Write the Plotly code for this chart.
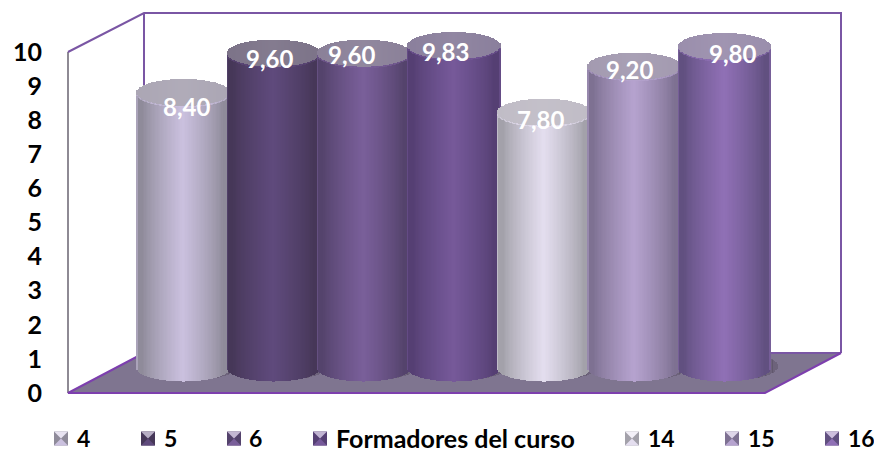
import math
import plotly.graph_objects as go

# ---- data ----
categories = ["4", "5", "6", "Formadores del curso", "14", "15", "16"]
values = [8.40, 9.60, 9.60, 9.83, 7.80, 9.20, 9.80]
value_labels = ["8,40", "9,60", "9,60", "9,83", "7,80", "9,20", "9,80"]
y_ticks = [0, 1, 2, 3, 4, 5, 6, 7, 8, 9, 10]

# ---- style ----
center_colors = ["#cbc1df", "#5f4a7c", "#7a5f9a", "#76599a", "#e4deef", "#b6a3cf", "#9070b6"]
edge_colors = ["#8f8b9a", "#463758", "#54436c", "#553f73", "#a3a1aa", "#7e7192", "#615080"]
cap_colors = ["#aba6b4", "#7c7388", "#8a8098", "#8a7f9c", "#c0bcc6", "#a39ab0", "#9a8eac"]
FRAME = "#7a56a4"
FONT = "Lato"

W, H = 874, 453
L, B = 68, 60              # plot area left / bottom margin in px
PLOT_W, PLOT_H = W - L, H - B
X0, DX = 183.5, 90.2       # px of first cylinder centre, px per category
Y0, UNIT = 393.0, 34.1     # front axis: px of 0, px per unit
Y0C, UNITC = 368.0, 32.8   # cylinders plane: px of 0, px per unit
CYL_W = 93 / DX            # cylinder width in category units
RY = 13.5 / UNITC          # ellipse half height in value units
N = 70

def px(x):
    return (x - L) / PLOT_W

def py(y):
    return (H - B - y) / PLOT_H

def mix(a, b, f):
    a = [int(a[i:i + 2], 16) for i in (1, 3, 5)]
    b = [int(b[i:i + 2], 16) for i in (1, 3, 5)]
    return "rgb(%d,%d,%d)" % tuple(round(p + (q - p) * f) for p, q in zip(a, b))

ts = [-1 + (2 * k + 1) / N for k in range(N)]
sl = [CYL_W / 2 * t for t in ts]
sw = [CYL_W / N * 1.25] * N
sq = [math.sqrt(1 - t * t) for t in ts]

def shade(t):
    a = abs(t)
    if a > 0.97:
        return 0.45            # thin light rim
    if a > 0.86:
        return 0.0
    return (1 - a / 0.86) ** 0.8

fig = go.Figure()

# floor shadow
for i in range(len(values)):
    fig.add_trace(go.Bar(
        x=[i + 0.05 + s * 1.05 for s in sl], y=[2 * RY * 1.1 * q for q in sq],
        base=[-RY * 1.05 * q + 0.05 for q in sq], width=sw, yaxis="y2",
        marker=dict(color="rgba(70,62,82,0.32)", line=dict(width=0)),
        hoverinfo="skip", showlegend=False))

for i, v in enumerate(values):
    cols = [mix(edge_colors[i], center_colors[i], shade(t)) for t in ts]
    # side
    fig.add_trace(go.Bar(
        x=[i + s for s in sl], y=[v] * N, base=[-RY * q for q in sq], width=sw, yaxis="y2",
        marker=dict(color=cols, line=dict(width=0)),
        name=categories[i], hoverinfo="skip", showlegend=False))
    # soft bevel under cap
    fig.add_trace(go.Bar(
        x=[i + s for s in sl], y=[2.5 / UNITC] * N, base=[v - RY * q - 1.5 / UNITC for q in sq],
        width=sw, yaxis="y2",
        marker=dict(color=[center_colors[i]] * N, opacity=0.45, line=dict(width=0)),
        hoverinfo="skip", showlegend=False))
    # top cap
    fig.add_trace(go.Bar(
        x=[i + s for s in sl], y=[2 * RY * q for q in sq], base=[v - RY * q for q in sq],
        width=sw, yaxis="y2",
        marker=dict(color=[mix(cap_colors[i], "#ffffff", 0.06 * (1 - abs(t))) for t in ts], line=dict(width=0)),
        hoverinfo="skip", showlegend=False))

# hidden trace keeping the primary (tick) axis alive
fig.add_trace(go.Scatter(x=[0] * len(y_ticks), y=y_ticks, mode="markers",
                         marker=dict(opacity=0), hoverinfo="skip", showlegend=False))

shapes = []
def path(points, **kw):
    d = "M " + " L ".join(f"{px(a):.5f},{py(b):.5f}" for a, b in points)
    if kw.pop("close", False):
        d += " Z"
    shapes.append(dict(type="path", path=d, xref="paper", yref="paper", **kw))

# floor + frame
path([(68, 393), (765, 393), (841, 353), (144, 353)], close=True,
     fillcolor="#7f7590", line=dict(width=0), layer="below")
path([(144, 353), (841, 353)], line=dict(color=FRAME, width=2), layer="below")
path([(68, 393), (68, 52)], line=dict(color="#8e8a94", width=2), layer="below")
path([(68, 52), (144, 13), (841, 13), (841, 353)], line=dict(color=FRAME, width=2), layer="below")
path([(144, 13), (144, 353)], line=dict(color=FRAME, width=2), layer="below")
path([(144, 353), (68, 393), (765, 393), (841, 353)], line=dict(color="#7d3fae", width=2), layer="below")

# legend
legend_swatch_x = [54, 141, 227, 313, 625, 725, 825]
legend_text_x = [75, 162, 247, 334, 646, 746, 846]
legend_sizes = [23, 23, 23, 25, 23, 23, 23]
annotations = []
SW = 14
LEG_Y = 437.5
SY = LEG_Y - SW / 2 + 1
for i, c in enumerate(categories):
    a = legend_swatch_x[i]
    m = (a + SW / 2, SY + SW / 2)
    path([(a, SY), (a + SW, SY), (a + SW, SY + SW), (a, SY + SW)], close=True,
         fillcolor=edge_colors[i], line=dict(width=0), layer="above")
    path([(a, SY), (a + SW, SY), m], close=True,
         fillcolor=mix(center_colors[i], "#ffffff", 0.55), line=dict(width=0), layer="above")
    path([(a, SY + SW), (a + SW, SY + SW), m], close=True,
         fillcolor=center_colors[i], line=dict(width=0), layer="above")
    annotations.append(dict(text=c, x=px(legend_text_x[i]), y=py(LEG_Y), xref="paper", yref="paper",
                            xanchor="left", yanchor="middle", showarrow=False,
                            font=dict(family=FONT, size=legend_sizes[i], color="#000000", weight="bold")))

# value labels (hand-placed offsets from top of each cylinder, px)
label_dx = [3, -4, -12, -9, -4, -5, 8]
label_dy = [-14, -5, -1, -6, -7, -3, -7]
for i, v in enumerate(values):
    annotations.append(dict(text=value_labels[i], x=i, y=v, xref="x", yref="y2",
                            xshift=label_dx[i], yshift=label_dy[i],
                            showarrow=False, xanchor="center", yanchor="middle",
                            font=dict(family=FONT, size=24, color="#ffffff", weight="bold")))

fig.update_layout(
    width=W, height=H, margin=dict(l=L, r=0, t=0, b=B, pad=0),
    paper_bgcolor="white", plot_bgcolor="rgba(0,0,0,0)",
    barmode="overlay", bargap=0, showlegend=False,
    shapes=shapes, annotations=annotations,
    xaxis=dict(visible=False, range=[(L - X0) / DX, (W - X0) / DX], fixedrange=True),
    yaxis=dict(range=[0, Y0 / UNIT], tickmode="array", tickvals=y_ticks, ticktext=[str(t) for t in y_ticks],
               showgrid=False, zeroline=False, showline=False, ticks="", ticklabelstandoff=25,
               tickfont=dict(family=FONT, size=25, color="#000000", weight="bold"), fixedrange=True),
    yaxis2=dict(range=[(Y0C - Y0) / UNITC, Y0C / UNITC], overlaying="y", visible=False, fixedrange=True),
)

fig.write_html("out.html", config=dict(displayModeBar=False),
               post_script="document.body.style.margin='0';document.documentElement.style.overflow='hidden';")
